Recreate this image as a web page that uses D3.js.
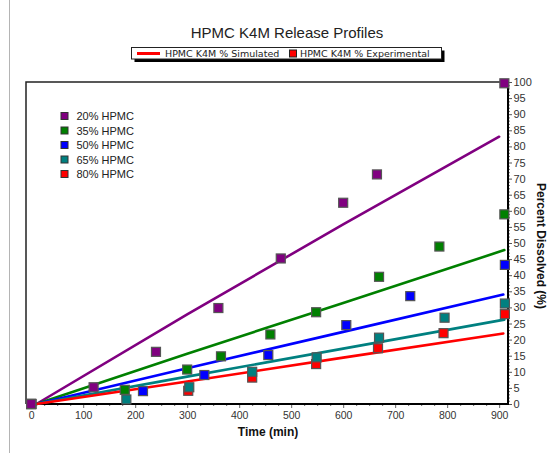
<!DOCTYPE html>
<html>
<head>
<meta charset="utf-8">
<script src="https://cdn.jsdelivr.net/npm/d3@7/dist/d3.min.js"></script>
<style>
  html, body { margin: 0; padding: 0; background: #ffffff; }
  svg { display: block; font-family: "Liberation Sans", Arial, sans-serif; }
</style>
</head>
<body>
<svg id="chart" width="553" height="453"></svg>
<script>
// ---------------- data ----------------
const seriesNames = ["20% HPMC", "35% HPMC", "50% HPMC", "65% HPMC", "80% HPMC"];
const seriesColors = ["#800080", "#008000", "#0000ff", "#008080", "#ff0000"];

// simulated (lines)
const simTime   = [10, 300, 600, 900];
const simP20    = [0, 27.8, 55.8, 83.0];
const simP35    = [0, 15.6, 31.4, 47.8];
const simP50    = [0, 11.1, 22.4, 34.0];
const simP65    = [0, 8.5, 17.2, 26.2];
const simP80    = [0, 7.0, 14.4, 21.9];

// experimental (markers)
const expTimeP20 = [0, 120, 240, 360, 480, 600, 665, 910];
const expP20     = [0, 5.2, 16.2, 29.8, 45.2, 62.5, 71.3, 99.6];
const expTimeP35 = [0, 180, 300, 365, 460, 548, 669, 785, 910];
const expP35     = [0, 4.4, 10.7, 14.8, 21.6, 28.5, 39.5, 48.9, 58.9];
const expTimeP50 = [0, 215, 333, 456, 606, 729, 911];
const expP50     = [0, 4.0, 9.0, 15.2, 24.5, 33.5, 43.2];
const expTimeP65 = [0, 183, 304, 425, 549, 669, 795, 911];
const expP65     = [0, 1.4, 5.2, 10.0, 14.5, 20.6, 26.8, 31.2];
const expTimeP80 = [0, 302, 425, 548, 667, 793, 911];
const expP80     = [0, 4.1, 8.2, 12.4, 17.3, 22.0, 27.9];

const xTicks = [0, 100, 200, 300, 400, 500, 600, 700, 800, 900];
const yTicks = d3.range(0, 101, 5);

const titleText = "HPMC K4M Release Profiles";
const legendSim = "HPMC K4M % Simulated";
const legendExp = "HPMC K4M % Experimental";
const xTitle = "Time (min)";
const yTitle = "Percent Dissolved (%)";

// ---------------- build ----------------
(function () {
const simVals = [simP20, simP35, simP50, simP65, simP80];
const simEnd = [900, 910, 908, 910, 908];
const expTimes = [expTimeP20, expTimeP35, expTimeP50, expTimeP65, expTimeP80];
const expVals = [expP20, expP35, expP50, expP65, expP80];

const svg = d3.select("#chart");
const pL = 26, pR = 508, pT = 82, pB = 404;

const x = d3.scaleLinear().domain([-10, 917]).range([pL, pR]);
const y = d3.scaleLinear().domain([0, 100]).range([pB, pT]);

// outer left border
svg.append("line").attr("x1", 9.5).attr("x2", 9.5).attr("y1", 0).attr("y2", 453)
  .attr("stroke", "#b4b4b4").attr("stroke-width", 1);

// title
svg.append("text").attr("x", 287).attr("y", 38).attr("text-anchor", "middle")
  .attr("font-size", 15).attr("fill", "#222").text(titleText);

// top legend box with shadow
const lg = svg.append("g");
lg.append("rect").attr("x", 134.5).attr("y", 50.5).attr("width", 310).attr("height", 11.5).attr("fill", "#000");
lg.append("rect").attr("x", 131.5).attr("y", 47.5).attr("width", 310).attr("height", 11.5)
  .attr("fill", "#fff").attr("stroke", "#222").attr("stroke-width", 1);
lg.append("line").attr("x1", 137).attr("x2", 160).attr("y1", 53.5).attr("y2", 53.5)
  .attr("stroke", "#ff0000").attr("stroke-width", 3);
lg.append("text").attr("x", 165).attr("y", 57).attr("font-size", 9.5)
  .attr("font-family", "'DejaVu Sans', Verdana, sans-serif").attr("fill", "#222").text(legendSim);
lg.append("rect").attr("x", 289.5).attr("y", 50).attr("width", 7).attr("height", 7)
  .attr("fill", "#ff0000").attr("stroke", "#222").attr("stroke-width", 1);
lg.append("text").attr("x", 300).attr("y", 57).attr("font-size", 9.5)
  .attr("font-family", "'DejaVu Sans', Verdana, sans-serif").attr("fill", "#222").text(legendExp);

// frame (top, left)
svg.append("path").attr("d", `M${pL},${pB} V${pT} H${pR}`)
  .attr("fill", "none").attr("stroke", "#222").attr("stroke-width", 1.5);

// x axis
const xMinor = d3.range(0, 901, 25).filter(v => v % 100 !== 0);
const gx = svg.append("g").attr("transform", `translate(0,${pB})`);
gx.call(d3.axisBottom(x).tickValues(xMinor).tickSize(2).tickFormat(""))
  .call(g => g.select(".domain").remove())
  .call(g => g.selectAll("line").attr("stroke", "#666"));
const gx2 = svg.append("g").attr("transform", `translate(0,${pB})`);
gx2.call(d3.axisBottom(x).tickValues(xTicks).tickSize(4).tickPadding(4).tickSizeOuter(0))
  .call(g => g.select(".domain").remove())
  .call(g => g.selectAll("line").attr("stroke", "#666"))
  .call(g => g.selectAll("text").attr("font-size", 10.5).attr("fill", "#333")
    .attr("font-family", "'Liberation Sans', Arial, sans-serif"));
svg.append("line").attr("x1", pL).attr("x2", pR + 1).attr("y1", pB).attr("y2", pB)
  .attr("stroke", "#000").attr("stroke-width", 2);

// y axis (right)
const yMinor = d3.range(0, 101, 1).filter(v => v % 5 !== 0);
const gy = svg.append("g").attr("transform", `translate(${pR},0)`);
gy.call(d3.axisRight(y).tickValues(yMinor).tickSize(2).tickFormat(""))
  .call(g => g.select(".domain").remove())
  .call(g => g.selectAll("line").attr("stroke", "#777"));
const gy2 = svg.append("g").attr("transform", `translate(${pR},0)`);
gy2.call(d3.axisRight(y).tickValues(yTicks).tickSize(4).tickPadding(1.5).tickSizeOuter(0))
  .call(g => g.select(".domain").remove())
  .call(g => g.selectAll("line").attr("stroke", "#555"))
  .call(g => g.selectAll("text").attr("font-size", 11).attr("fill", "#333")
    .attr("font-family", "'Liberation Sans', Arial, sans-serif"));
svg.append("line").attr("x1", pR).attr("x2", pR).attr("y1", pT - 1).attr("y2", pB + 1)
  .attr("stroke", "#000").attr("stroke-width", 2);

// axis titles
svg.append("text").attr("x", 268).attr("y", 436).attr("text-anchor", "middle")
  .attr("font-size", 12).attr("font-weight", "bold").attr("fill", "#111").text(xTitle);
svg.append("text").attr("transform", "translate(537,246) rotate(90)").attr("text-anchor", "middle")
  .attr("font-size", 12).attr("font-weight", "bold").attr("fill", "#111").text(yTitle);

// lines
const line = d3.line().x(d => x(d[0])).y(d => y(d[1]));
simVals.forEach((vals, i) => {
  const pts = simTime.map((t, j) => [j === simTime.length - 1 ? simEnd[i] : t, vals[j]]);
  svg.append("path").datum(pts).attr("d", line).attr("fill", "none")
    .attr("stroke", seriesColors[i]).attr("stroke-width", 2.6).attr("stroke-linecap", "round");
});

// markers: draw from last series to first so 20% is on top
[4, 3, 2, 1, 0].forEach(i => {
  const pts = expTimes[i].map((t, j) => [t, expVals[i][j]]);
  svg.append("g").selectAll("rect").data(pts).join("rect")
    .attr("x", d => x(d[0]) - 4.5).attr("y", d => y(d[1]) - 4.5)
    .attr("width", 9).attr("height", 9)
    .attr("fill", seriesColors[i]).attr("stroke", "#555").attr("stroke-width", 1.2);
});

// inner legend
const il = svg.append("g");
seriesNames.forEach((name, i) => {
  const cy = 116 + i * 14.5;
  il.append("rect").attr("x", 61).attr("y", cy - 3.5).attr("width", 7).attr("height", 7)
    .attr("fill", seriesColors[i]).attr("stroke", "#333").attr("stroke-width", 1);
  il.append("text").attr("x", 76.5).attr("y", cy + 4).attr("font-size", 11)
    .attr("fill", "#222").text(name);
});
})();
</script>
</body>
</html>
